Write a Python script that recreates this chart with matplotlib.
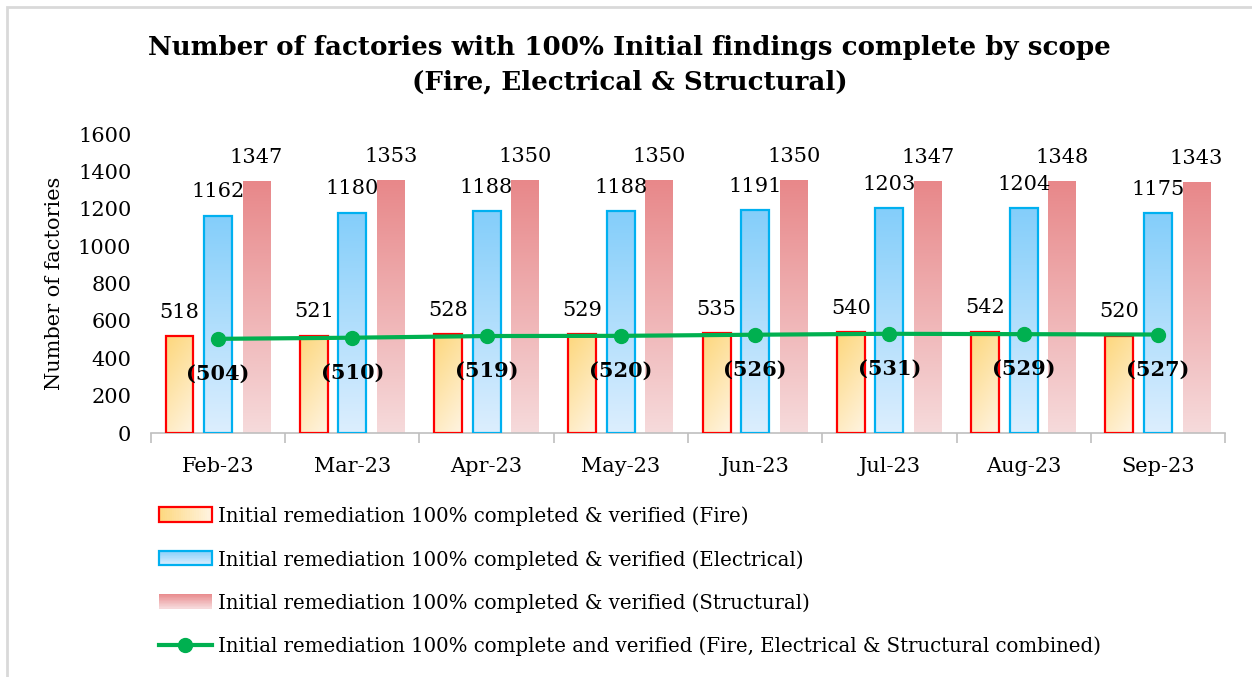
import matplotlib
matplotlib.use("Agg")
import matplotlib.pyplot as plt
import numpy as np
from matplotlib.colors import to_rgba
from matplotlib.patches import Rectangle
from matplotlib.lines import Line2D
from matplotlib.legend_handler import HandlerBase

months = ["Feb-23", "Mar-23", "Apr-23", "May-23", "Jun-23", "Jul-23", "Aug-23", "Sep-23"]
fire = [518, 521, 528, 529, 535, 540, 542, 520]
electrical = [1162, 1180, 1188, 1188, 1191, 1203, 1204, 1175]
structural = [1347, 1353, 1350, 1350, 1350, 1347, 1348, 1343]
combined = [504, 510, 519, 520, 526, 531, 529, 527]

labels = [
    "Initial remediation 100% completed & verified (Fire)",
    "Initial remediation 100% completed & verified (Electrical)",
    "Initial remediation 100% completed & verified (Structural)",
    "Initial remediation 100% complete and verified (Fire, Electrical & Structural combined)",
]

plt.rcParams["font.family"] = ["DejaVu Serif"]

FIRE_C = ("#FDD77C", "#FFF4E2")
ELEC_C = ("#84CEFA", "#DCEEFE")
STRU_C = ("#E8888A", "#F6DADB")
GREEN = "#00B050"


def gradient_img(c0, c1, diagonal=False, n=64):
    a = np.array(to_rgba(c0))
    b = np.array(to_rgba(c1))
    yy, xx = np.mgrid[0:1:n * 1j, 0:1:n * 1j]
    t = 0.7 * yy + 0.3 * xx if diagonal else yy
    return a[None, None, :] * (1 - t[..., None]) + b[None, None, :] * t[..., None]


def gradient_bars(ax, xs, hs, w, colors, edge=None, diagonal=False):
    img = gradient_img(*colors, diagonal=diagonal)
    for x, h in zip(xs, hs):
        ax.imshow(img, extent=[x - w / 2, x + w / 2, 0, h], origin="upper",
                  aspect="auto", interpolation="bilinear", zorder=2)
        if edge:
            ax.add_patch(Rectangle((x - w / 2, 0), w, h, facecolor="none",
                                   edgecolor=edge, lw=1.6, zorder=3))


class GradHandler(HandlerBase):
    def __init__(self, colors, edge=None, diagonal=False):
        super().__init__()
        self.colors = colors
        self.edge = edge
        self.diagonal = diagonal

    def create_artists(self, legend, orig, xd, yd, width, height, fontsize, trans):
        a = np.array(to_rgba(self.colors[0]))
        b = np.array(to_rgba(self.colors[1]))
        arts = []
        n = 24
        for i in range(n):
            t = (i + 0.5) / n
            c = a * (1 - t) + b * t
            if self.diagonal:
                r = Rectangle((xd + width * i / n, yd), width / n + 0.3, height,
                              facecolor=c, edgecolor="none", transform=trans)
            else:
                r = Rectangle((xd, yd + height * (1 - (i + 1) / n)), width, height / n + 0.3,
                              facecolor=c, edgecolor="none", transform=trans)
            arts.append(r)
        if self.edge:
            arts.append(Rectangle((xd, yd), width, height, facecolor="none",
                                  edgecolor=self.edge, lw=1.6, transform=trans))
        return arts


fig = plt.figure(figsize=(12.52, 6.77), dpi=100)
ax = fig.add_axes([0.1205, 0.3604, 0.858, 0.4416])

x = np.arange(len(months))
w = 0.208
off = 0.287
gradient_bars(ax, x - off, fire, w, FIRE_C, edge="#FF0000", diagonal=True)
gradient_bars(ax, x, electrical, w, ELEC_C, edge="#00B0F0")
gradient_bars(ax, x + off, structural, w, STRU_C)
ax.plot(x, combined, color=GREEN, lw=3, marker="o", ms=10, zorder=4)

for xs, vals in ((x - off, fire), (x, electrical), (x + off, structural)):
    for xi, v in zip(xs, vals):
        ax.annotate(str(v), (xi, v), xytext=(0, 24), textcoords="offset pixels",
                    ha="center", va="center", fontsize=15)
for xi, v in zip(x, combined):
    ax.annotate(f"({v})", (xi, v), xytext=(0, -35), textcoords="offset pixels",
                ha="center", va="center", fontsize=15, fontweight="bold", zorder=5)

ax.set_xlim(-0.5, len(months) - 0.5)
ax.set_ylim(0, 1600)
ax.set_yticks(range(0, 1601, 200))
ax.set_xticks(x)
ax.set_xticklabels(months)
ax.set_xticks(np.arange(-0.5, len(months)), minor=True)
ax.tick_params(axis="x", which="major", length=0, pad=17, labelsize=15)
ax.tick_params(axis="x", which="minor", length=7, color="#BFBFBF", width=1.2)
ax.tick_params(axis="y", length=0, pad=14, labelsize=15)
for s in ("top", "right", "left"):
    ax.spines[s].set_visible(False)
ax.spines["bottom"].set_color("#BFBFBF")
ax.spines["bottom"].set_linewidth(1.2)
ax.set_ylabel("Number of factories", fontsize=15, labelpad=10)

fig.suptitle("Number of factories with 100% Initial findings complete by scope\n(Fire, Electrical & Structural)",
             x=0.503, y=0.948, va="top", fontsize=18.8, fontweight="bold", linespacing=1.45)

handles = [Rectangle((0, 0), 1, 1), Rectangle((0, 0), 1, 1), Rectangle((0, 0), 1, 1),
           Line2D([], [], color=GREEN, lw=3, marker="o", ms=10)]
fig.legend(handles, labels, loc="upper left", bbox_to_anchor=(0.1125, 0.278),
           frameon=False, fontsize=14.2, labelspacing=1.2, handlelength=2.7,
           handleheight=0.75, handletextpad=0.3,
           handler_map={handles[0]: GradHandler(FIRE_C, "#FF0000", True),
                        handles[1]: GradHandler(ELEC_C, "#00B0F0"),
                        handles[2]: GradHandler(STRU_C)})

fig.patches.append(Rectangle((0.0055, -0.01), 1.0, 1.0, transform=fig.transFigure,
                             facecolor="none", edgecolor="#D9D9D9", lw=2))

fig.savefig("out.png", dpi=100)
